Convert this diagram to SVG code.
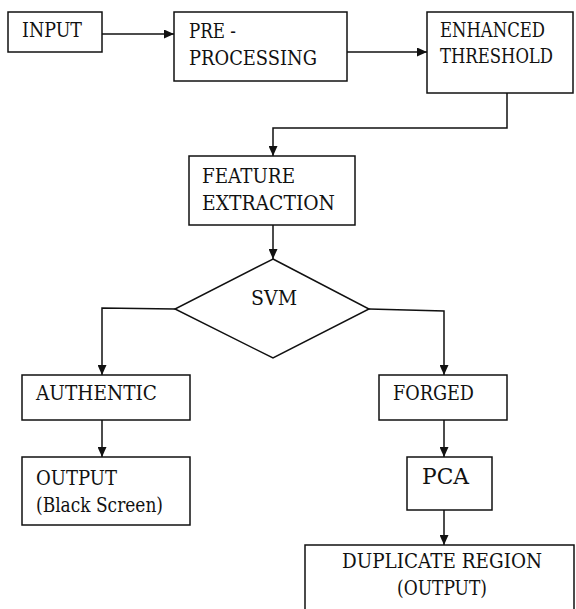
<svg xmlns="http://www.w3.org/2000/svg" width="576" height="609" viewBox="0 0 576 609">
<style>
.box{fill:#fff;stroke:#111;stroke-width:1.5}
.t{font-family:"DejaVu Serif","Liberation Serif",serif;font-size:20px;fill:#111}
.c{fill:none;stroke:#111;stroke-width:1.5}
</style>
<defs>
<marker id="ah" markerUnits="userSpaceOnUse" markerWidth="10" markerHeight="9" refX="10" refY="4.5" orient="auto">
<path d="M0,0 L10,4.5 L0,9 z" fill="#111"/>
</marker>
</defs>
<rect width="576" height="609" fill="#fff"/>
<g id="connectors">
<path class="c" d="M102,34 H174" marker-end="url(#ah)"/>
<path class="c" d="M347,52 H427" marker-end="url(#ah)"/>
<path class="c" d="M507,93 V128 H273 V156" marker-end="url(#ah)"/>
<path class="c" d="M273,225 V259" marker-end="url(#ah)"/>
<path class="c" d="M175,309 L102,308 V375" marker-end="url(#ah)"/>
<path class="c" d="M369,309 L444,311 V375" marker-end="url(#ah)"/>
<path class="c" d="M102,420 V457" marker-end="url(#ah)"/>
<path class="c" d="M444,420 V457" marker-end="url(#ah)"/>
<path class="c" d="M444,510 V545" marker-end="url(#ah)"/>
</g>
<g id="input">
<rect class="box" x="8" y="12" width="94" height="40"/>
<text class="t" x="22" y="37" textLength="60" lengthAdjust="spacingAndGlyphs">INPUT</text>
</g>
<g id="preprocessing">
<rect class="box" x="174" y="12" width="173" height="69"/>
<text class="t" x="189" y="38" textLength="47" lengthAdjust="spacingAndGlyphs">PRE -</text>
<text class="t" x="189" y="65" textLength="128" lengthAdjust="spacingAndGlyphs">PROCESSING</text>
</g>
<g id="enhanced">
<rect class="box" x="427" y="12" width="146" height="81"/>
<text class="t" x="440" y="37" textLength="105" lengthAdjust="spacingAndGlyphs">ENHANCED</text>
<text class="t" x="440" y="63" textLength="113" lengthAdjust="spacingAndGlyphs">THRESHOLD</text>
</g>
<g id="feature">
<rect class="box" x="189" y="156" width="166" height="69"/>
<text class="t" x="202" y="183" textLength="93" lengthAdjust="spacingAndGlyphs">FEATURE</text>
<text class="t" x="202" y="210" textLength="133" lengthAdjust="spacingAndGlyphs">EXTRACTION</text>
</g>
<g id="svm">
<polygon class="box" points="273,259 369,309 273,358 175,309"/>
<text class="t" x="251" y="305" textLength="46" lengthAdjust="spacingAndGlyphs">SVM</text>
</g>
<g id="authentic">
<rect class="box" x="22" y="375" width="168" height="45"/>
<text class="t" x="36" y="400" textLength="121" lengthAdjust="spacingAndGlyphs">AUTHENTIC</text>
</g>
<g id="output">
<rect class="box" x="22" y="457" width="168" height="68"/>
<text class="t" x="36" y="485" textLength="81" lengthAdjust="spacingAndGlyphs">OUTPUT</text>
<text class="t" x="36" y="512" textLength="127" lengthAdjust="spacingAndGlyphs">(Black Screen)</text>
</g>
<g id="forged">
<rect class="box" x="379" y="375" width="128" height="45"/>
<text class="t" x="393" y="400" textLength="81" lengthAdjust="spacingAndGlyphs">FORGED</text>
</g>
<g id="pca">
<rect class="box" x="407" y="457" width="85" height="53"/>
<text class="t" x="422" y="484" style="font-size:22px" textLength="47" lengthAdjust="spacingAndGlyphs">PCA</text>
</g>
<g id="duplicate">
<rect class="box" x="305" y="545" width="269" height="80"/>
<text class="t" x="342" y="568" textLength="200" lengthAdjust="spacingAndGlyphs">DUPLICATE REGION</text>
<text class="t" x="397" y="595" textLength="90" lengthAdjust="spacingAndGlyphs">(OUTPUT)</text>
</g>
</svg>
